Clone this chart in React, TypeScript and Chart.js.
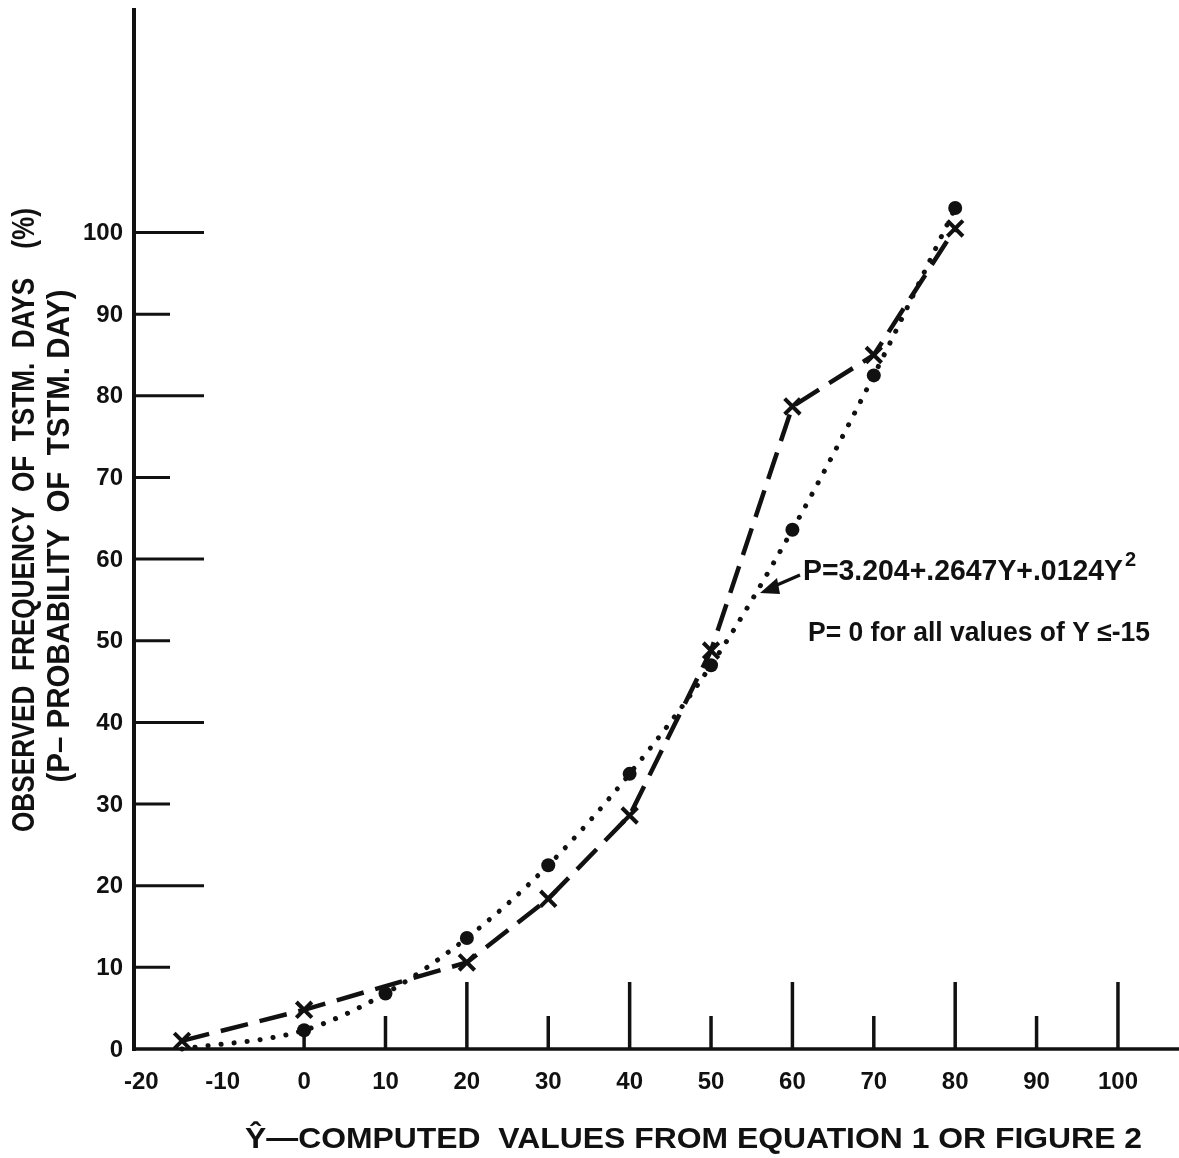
import React, { useEffect, useRef } from "react";
import { Chart, registerables } from "chart.js";

Chart.register(...registerables);

// ---- data ----
const observedX = [-15, 0, 20, 30, 40, 50, 60, 70, 80];
const observedP = [1, 4.8, 10.6, 18.4, 28.6, 48.8, 78.7, 85, 100.5];

const computedX = [-15, 0, 10, 20, 30, 40, 50, 60, 70, 80];
const computedP = [0, 2.3, 6.8, 13.6, 22.5, 33.7, 47, 63.6, 82.5, 103];
const computedHasDot = [false, true, true, true, true, true, true, true, true, true];

const xTickLabels = [-20, -10, 0, 10, 20, 30, 40, 50, 60, 70, 80, 90, 100];
const xTickMarks = [0, 10, 20, 30, 40, 50, 60, 70, 80, 90, 100];
const yTickLabels = [0, 10, 20, 30, 40, 50, 60, 70, 80, 90, 100];
const yTickMarks = [10, 20, 30, 40, 50, 60, 70, 80, 90, 100];

const yTitleLine1 = "OBSERVED  FREQUENCY  OF  TSTM.  DAYS    (%)";
const yTitleLine2 = "(P\u2013 PROBABILITY  OF  TSTM. DAY)";
const xTitle = "\u0176\u2014COMPUTED  VALUES FROM EQUATION 1 OR FIGURE 2";
const equationText = "P=3.204+.2647Y+.0124Y";
const equationSup = "2";
const noteText = "P= 0 for all values of Y \u2264-15";

const INK = "#111111";

function fitText(ctx: CanvasRenderingContext2D, text: string, x: number, y: number, width: number, font: string, align: "left" | "center") {
  ctx.save();
  ctx.font = font;
  const w = ctx.measureText(text).width;
  const s = width / w;
  ctx.translate(x, y);
  ctx.scale(s, 1);
  ctx.textAlign = align;
  ctx.fillText(text, 0, 0);
  ctx.restore();
}

const decorPlugin = {
  id: "decor",
  beforeDatasetsDraw(chart: any) {
    const ctx: CanvasRenderingContext2D = chart.ctx;
    const xs = chart.scales.x;
    const ys = chart.scales.y;
    const area = chart.chartArea;
    const y0 = ys.getPixelForValue(0);
    ctx.save();
    ctx.strokeStyle = INK;
    ctx.lineCap = "butt";
    // y axis
    ctx.lineWidth = 4;
    ctx.beginPath();
    ctx.moveTo(area.left, area.top);
    ctx.lineTo(area.left, y0 + 2);
    ctx.stroke();
    // x axis
    ctx.lineWidth = 3.5;
    ctx.beginPath();
    ctx.moveTo(area.left, y0);
    ctx.lineTo(area.right, y0);
    ctx.stroke();
    // y ticks (pointing inward)
    ctx.lineWidth = 3;
    yTickMarks.forEach((v) => {
      const py = ys.getPixelForValue(v);
      const len = v % 20 === 0 ? 70 : 36;
      ctx.beginPath();
      ctx.moveTo(area.left, py);
      ctx.lineTo(area.left + len, py);
      ctx.stroke();
    });
    // x ticks (pointing upward)
    ctx.lineWidth = 3.5;
    xTickMarks.forEach((v) => {
      const px = xs.getPixelForValue(v);
      const len = v === 0 ? 16 : v % 20 === 0 ? 67 : 33;
      ctx.beginPath();
      ctx.moveTo(px, y0);
      ctx.lineTo(px, y0 - len);
      ctx.stroke();
    });
    ctx.restore();
  },
  afterDraw(chart: any) {
    const ctx: CanvasRenderingContext2D = chart.ctx;
    const xs = chart.scales.x;
    const ys = chart.scales.y;
    ctx.save();
    ctx.fillStyle = INK;
    // y tick labels
    ctx.font = "bold 24px 'Liberation Sans', Arial, sans-serif";
    ctx.textAlign = "right";
    ctx.textBaseline = "middle";
    yTickLabels.forEach((v) => {
      ctx.fillText(String(v), 123, ys.getPixelForValue(v) + 1);
    });
    // x tick labels
    ctx.textAlign = "center";
    xTickLabels.forEach((v) => {
      ctx.fillText(String(v), xs.getPixelForValue(v), 1082);
    });
    ctx.textBaseline = "alphabetic";
    // y title (rotated)
    const titleFont = "bold 31px 'Liberation Sans', Arial, sans-serif";
    ctx.save();
    ctx.translate(34, 520);
    ctx.rotate(-Math.PI / 2);
    fitText(ctx, yTitleLine1, 0, 0, 624, titleFont, "center");
    ctx.restore();
    ctx.save();
    ctx.translate(69, 536);
    ctx.rotate(-Math.PI / 2);
    fitText(ctx, yTitleLine2, 0, 0, 493, titleFont, "center");
    ctx.restore();
    // x title
    fitText(ctx, xTitle, 245, 1148, 897, "bold 30px 'Liberation Sans', Arial, sans-serif", "left");
    // equation annotation
    fitText(ctx, equationText, 803, 580, 320, "bold 29px 'Liberation Sans', Arial, sans-serif", "left");
    ctx.font = "bold 20px 'Liberation Sans', Arial, sans-serif";
    ctx.textAlign = "left";
    ctx.fillText(equationSup, 1125, 566);
    fitText(ctx, noteText, 808, 641, 342, "bold 27px 'Liberation Sans', Arial, sans-serif", "left");
    // arrow from the equation to the dotted curve
    ctx.strokeStyle = INK;
    ctx.lineWidth = 3.5;
    ctx.beginPath();
    ctx.moveTo(800, 575);
    ctx.lineTo(770, 588);
    ctx.stroke();
    ctx.beginPath();
    ctx.moveTo(760, 593);
    ctx.lineTo(777, 578);
    ctx.lineTo(780, 594);
    ctx.closePath();
    ctx.fill();
    ctx.restore();
  },
};

export default function App() {
  const ref = useRef<HTMLCanvasElement | null>(null);
  useEffect(() => {
    if (!ref.current) return;
    const chart = new Chart(ref.current, {
      type: "scatter",
      data: {
        datasets: [
          {
            label: "Observed",
            data: observedX.map((x, i) => ({ x, y: observedP[i] })),
            showLine: true,
            borderColor: INK,
            borderWidth: 4.5,
            borderDash: [28, 12],
            tension: 0,
            pointStyle: "crossRot",
            pointRadius: 11,
            pointBorderWidth: 4,
            pointBorderColor: INK,
            pointBackgroundColor: "rgba(0,0,0,0)",
            clip: false,
          },
          {
            label: "Computed",
            data: computedX.map((x, i) => ({ x, y: computedP[i] })),
            showLine: true,
            borderColor: INK,
            borderWidth: 5,
            borderDash: [0.1, 13],
            borderCapStyle: "round",
            cubicInterpolationMode: "monotone",
            pointStyle: "circle",
            pointRadius: computedHasDot.map((d) => (d ? 7 : 0)),
            pointBorderWidth: 0,
            pointBackgroundColor: INK,
            pointBorderColor: INK,
            clip: false,
          },
        ],
      } as any,
      options: {
        responsive: false,
        animation: false,
        events: [],
        layout: { autoPadding: false, padding: { left: 134, right: 0, top: 8, bottom: 109 } },
        plugins: { legend: { display: false }, tooltip: { enabled: false } },
        scales: {
          x: { type: "linear", min: -20.9, max: 107.5, display: false },
          y: { type: "linear", min: 0, max: 127.5, display: false },
        },
      } as any,
      plugins: [decorPlugin],
    });
    return () => chart.destroy();
  }, []);
  return (
    <div style={{ position: "fixed", left: 0, top: 0, width: 1179, height: 1158, background: "#fff" }}>
      <canvas ref={ref} width={1179} height={1158} style={{ display: "block" }} />
    </div>
  );
}
